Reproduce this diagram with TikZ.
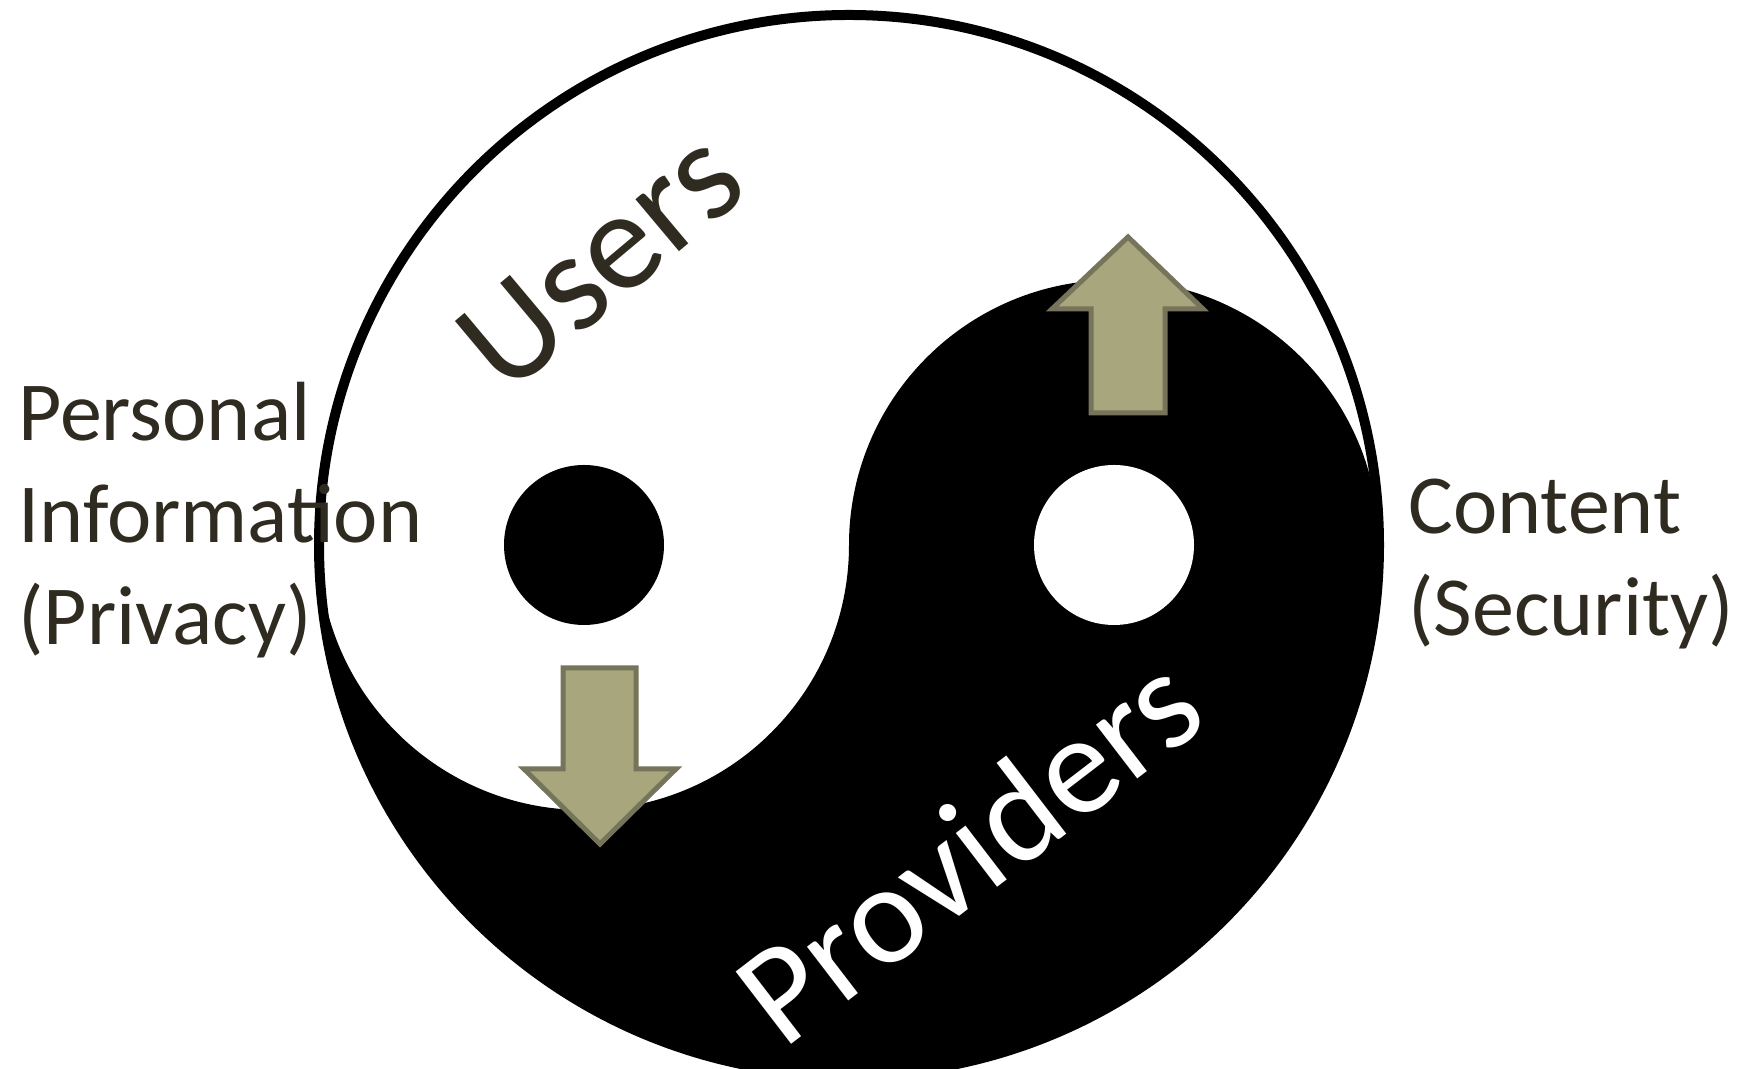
\documentclass[tikz,border=0pt]{standalone}
\usepackage{fontspec}
\usepackage{graphicx}
\setmainfont{Carlito}
\usetikzlibrary{positioning}
\definecolor{inkdark}{HTML}{2F2B21}
\definecolor{arrowfill}{HTML}{A8A67C}
\definecolor{arrowedge}{HTML}{76745A}
\pgfdeclareradialshading{slidebg}{\pgfpointorigin}{color(0bp)=(white); color(30bp)=(white); color(50bp)=(black!25)}
\tikzset{sidelabel/.style={inner sep=0pt, align=left, text=inkdark,
    font=\fontsize{42}{51}\selectfont},
  sidename/.style={inner sep=0pt, font=\fontsize{71}{80}\selectfont},
  blockarrow/.style={fill=arrowfill, draw=arrowedge, line width=2.5pt, line join=miter},
  yinyang/.style={x=0.5pt, y=0.5pt}}

\begin{document}
\begin{tikzpicture}[yinyang]
  \useasboundingbox (0,0) rectangle (1753,1069);
  \begin{scope}
    \clip (0,0) rectangle (1753,1069);
    \shade[shading=slidebg] (-640,-661) rectangle (2160,2139);
  \end{scope}
  % dark half with the S-shaped border, then the two eyes
  \fill[black] (319,524) arc[start angle=180, end angle=360, radius=530]
    arc[start angle=0, end angle=180, radius=265]
    arc[start angle=0, end angle=-180, radius=265] -- cycle;
  \fill[black] (584,524) circle (80);
  \fill[white] (1114,524) circle (80);
  \draw[line width=5pt] (849,524) circle (530);
  % up and down block arrows
  \filldraw[blockarrow] (1091,656) -- (1091,760) -- (1052,760) -- (1128,832)
    -- (1203,760) -- (1165,760) -- (1165,656) -- cycle;
  \filldraw[blockarrow] (563,401) -- (563,300) -- (524,300) -- (600,225)
    -- (676,300) -- (636,300) -- (636,401) -- cycle;
  \node[sidelabel, anchor=west] (privacy) at (18,549) {Personal\\Information\\(Privacy)};
  \node[sidelabel, anchor=west] (security) at (1408,505) {Content\\(Security)};
  \node[sidename, text=inkdark] (users) at (600,809) {\rotatebox{40}{Users}};
  \node[sidename, text=white] (providers) at (968,221) {\rotatebox{37.5}{Providers}};
\end{tikzpicture}
\end{document}
